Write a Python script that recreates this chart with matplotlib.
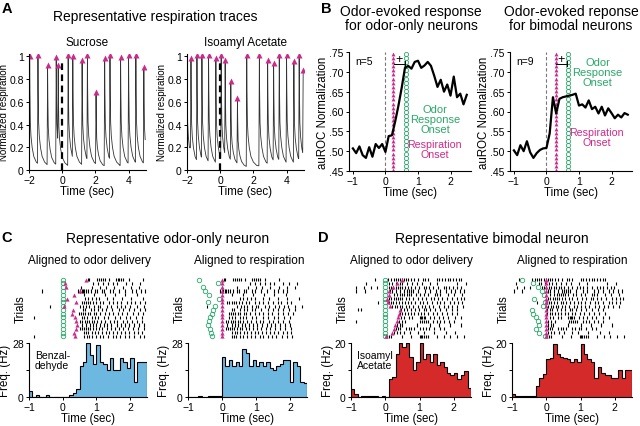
import matplotlib
matplotlib.use('Agg')
import matplotlib.pyplot as plt
import numpy as np

plt.rcParams['font.family'] = ['Liberation Sans', 'DejaVu Sans']
plt.rcParams['axes.linewidth'] = 0.8

MAGENTA = '#cc2a8a'
GREEN = '#2aa86a'
BLUE = '#6cb8e0'
RED = '#d42a2a'

# ---- Panel A: respiration peaks (time in s, normalized height)
sucrose_peak_t = [-1.96, -1.46, -0.88, -0.36, -0.24, 0.36, 0.64, 1.2, 1.52, 2.04,
                  2.56, 2.88, 3.52, 4.0, 4.44, 4.92]
sucrose_peak_h = [0.99, 1.0, 0.91, 0.98, 0.91, 1.0, 0.99, 0.95, 1.0, 0.67,
                  0.97, 1.0, 0.98, 1.0, 1.0, 0.89]
isoamyl_peak_t = [-1.76, -1.4, -1.1, -0.7, -0.26, 0.06, 0.3, 0.64, 1.04, 1.6,
                  2.36, 2.86, 3.22, 3.56, 4.0, 4.44, 4.76, 5.0]
isoamyl_peak_h = [0.97, 1.0, 1.0, 1.0, 0.97, 1.0, 0.95, 0.77, 0.62, 1.0,
                  1.0, 0.95, 0.93, 1.0, 1.0, 0.94, 1.0, 0.86]
# trace level at the left edge (a breath already in progress for isoamyl)
sucrose_start = 0.02
isoamyl_start = 0.98

# ---- Panel B: auROC, -1.0 .. 2.5 s in 0.1 s steps
auroc_t = np.round(np.arange(-1.0, 2.55, 0.1), 2)
auroc_odor_only = [.507, .495, .512, .490, .483, .510, .486, .518, .508, .518,
                   .498, .538, .540, .575, .615, .660, .710, .715, .708, .725,
                   .728, .710, .716, .725, .715, .690, .662, .680, .650, .668,
                   .640, .688, .636, .645, .618, .642]
auroc_bimodal = [.502, .490, .515, .500, .525, .497, .483, .495, .503, .507,
                 .508, .545, .636, .595, .632, .636, .638, .640, .642, .645,
                 .615, .618, .610, .628, .606, .612, .595, .612, .590, .608,
                 .596, .583, .592, .585, .596, .592]
resp_onset_odor_only = 0.24
odor_onset_odor_only = 0.62
resp_onset_bimodal = 0.28
odor_onset_bimodal = 0.67

# ---- Panels C, D: PSTH (bins of 0.1 s from -1.0 to 2.5)
bin_edges = np.round(np.arange(-1.0, 2.55, 0.1), 2)
psth_c_odor = [3, 0, 1, 0, 0, 1, 0, 0, 0, 0,
               0, 0, 1, 2, 4, 16, 18, 28, 22, 17,
               27, 18, 17, 14, 20, 14, 14, 20, 18, 15,
               20, 8, 18, 18, 18]
psth_c_resp = [0, 0, 0, 0.7, 0, 0, 0.7, 0.7, 0.7, 0.7,
               21, 16, 19, 16, 18, 16, 25, 23, 16, 19,
               16, 18, 16, 18, 15, 14, 16, 17, 19, 19,
               8, 18, 16, 8, 7.5]
psth_d_odor = [3, 1, 0, 0.5, 0.5, 0.5, 0.5, 0.5, 0, 0.5,
               0, 6.5, 7.5, 16, 20, 18.5, 20, 15, 10, 13,
               20, 14, 16, 13, 16, 12, 13, 11, 9, 8,
               9, 6.5, 8, 9.5, 3.5]
psth_d_resp = [1, 0.5, 0.5, 0.5, 0.5, 0.5, 0.5, 4, 7, 8.5,
               14, 14.5, 19.5, 16, 15, 14.5, 14, 13, 14, 13,
               19.5, 16, 14, 13, 7, 11, 9, 8, 8, 7,
               7, 10, 7, 10, 10]

# raster data: spike times relative to odor delivery, one list per trial
c_resp_onset = [0.69, 0.08, 0.10, 0.52, 0.33, 0.12, 0.40, 0.05,
                0.30, 0.28, 0.35, 0.40, 0.42, 0.38, 0.32, 0.36]
c_odor_rel_resp = [-0.68, -0.12, -0.55, -0.50, -0.38, -0.09, -0.42, -0.20,
                   -0.26, -0.30, -0.34, -0.38, -0.41, -0.36, -0.33, -0.30]
c_spikes = [
    [0.74, 0.78, 1.02, 1.08, 1.14, 1.2, 1.26, 1.36, 1.58, 1.63, 1.68, 1.74, 1.8, 1.96, 2.37],
    [0.9, 1.06, 1.2, 1.34, 1.48, 1.62, 1.88, 2.06, 2.3],
    [0.55, 0.86, 1.1, 1.28, 1.52, 1.78, 2.02, 2.26],
    [-0.62, 0.46, 0.52, 0.56, 0.6, 0.64, 0.7, 0.76, 0.84, 0.96, 1.02, 1.16, 1.22, 1.4, 1.5,
     1.66, 1.84, 2.06, 2.18, 2.32, 2.44],
    [0.62, 0.94, 1.24, 1.56, 1.86, 2.2],
    [0.66, 0.74, 0.86, 0.98, 1.08, 1.32, 1.5, 1.76, 2.02, 2.38],
    [0.56, 0.62, 0.68, 0.76, 0.82, 0.9, 1.0, 1.12, 1.2, 1.38, 1.48, 1.6, 1.74, 1.9, 2.04,
     2.14, 2.3, 2.44],
    [-0.38, 0.5, 0.6, 0.7, 0.78, 0.94, 1.04, 1.12, 1.3, 1.44, 1.6, 1.72, 1.86, 2.0, 2.2, 2.4],
    [0.6, 0.66, 0.84, 0.94, 1.04, 1.18, 1.28, 1.46, 1.66, 1.8, 1.96, 2.1, 2.28, 2.44],
    [0.48, 0.54, 0.6, 0.66, 0.74, 0.8, 0.92, 1.0, 1.1, 1.24, 1.36, 1.5, 1.64, 1.76, 1.92,
     2.08, 2.22, 2.38],
    [-0.85, 0.56, 0.64, 0.72, 0.88, 0.96, 1.06, 1.22, 1.34, 1.56, 1.7, 1.88, 2.0, 2.16, 2.34],
    [0.52, 0.58, 0.66, 0.72, 0.78, 0.86, 0.94, 1.02, 1.14, 1.26, 1.4, 1.52, 1.62, 1.78, 1.9,
     2.06, 2.2, 2.36],
    [0.58, 0.7, 0.8, 0.9, 1.0, 1.1, 1.22, 1.32, 1.44, 1.6, 1.74, 1.86, 1.98, 2.12, 2.26, 2.42],
    [0.5, 0.56, 0.62, 0.68, 0.74, 0.82, 0.9, 0.98, 1.08, 1.18, 1.3, 1.42, 1.54, 1.66, 1.8,
     1.94, 2.08, 2.24, 2.4],
    [0.62, 0.7, 0.76, 0.86, 0.96, 1.06, 1.16, 1.28, 1.38, 1.5, 1.62, 1.72, 1.84, 1.98, 2.1,
     2.22, 2.36],
    [-0.85, 0.64, 0.72, 0.78, 0.88, 0.98, 1.1, 1.2, 1.34, 1.48, 1.58, 1.7, 1.84, 1.96, 2.12,
     2.28, 2.42],
]

d_resp_onset = [0.5, 0.34, 0.22, 0.10, 0.12, 0.05, 0.08, 0.15,
                0.44, 0.40, 0.36, 0.34, 0.29, 0.26, 0.20, 0.03]
d_odor_rel_resp = [-0.72, -0.38, -0.25, -0.12, -0.08, -0.37, -0.05, -0.10,
                   -0.43, -0.38, -0.30, -0.25, -0.22, -0.30, -0.20, -0.03]
d_spikes = [
    [-0.3, 0.08, 0.16, 0.24, 0.3, 0.36, 0.42, 0.48, 0.54, 0.6, 0.66, 0.74, 0.84, 0.96, 1.1,
     1.16, 1.24, 1.5, 1.58, 1.66, 1.74, 1.82, 1.9, 1.98, 2.06, 2.14, 2.22],
    [-0.55, 0.12, 0.2, 0.3, 0.42, 0.5, 0.62, 0.78, 0.92, 1.06, 1.3, 1.52, 2.1, 2.36],
    [-0.85, -0.62, -0.42, -0.25, 0.1, 0.16, 0.22, 0.3, 0.36, 0.44, 0.5, 0.58, 0.66, 0.74,
     0.86, 0.98, 1.12, 1.2, 1.28, 1.4, 1.54, 1.7, 1.78, 1.86, 1.98, 2.1, 2.2],
    [-0.85, -0.6, 0.14, 0.2, 0.32, 0.44, 0.56, 0.62, 0.68, 0.74, 0.8, 0.96, 1.16, 1.3, 1.48,
     1.6, 1.76, 1.92, 2.04, 2.18, 2.3],
    [0.24, 0.34, 0.44, 0.5, 0.56, 0.62, 0.68, 0.76, 0.9, 1.0, 1.14, 1.26, 1.44, 1.52, 1.6,
     1.84, 2.0, 2.24],
    [0.1, 0.16, 0.24, 0.3, 0.36, 0.42, 0.5, 0.6, 0.7, 0.8, 0.94, 1.08, 1.2, 1.34, 1.42, 1.54,
     1.66, 1.8, 1.96, 2.08, 2.2, 2.3],
    [-0.2, 0.1, 0.16, 0.22, 0.3, 0.4, 0.5, 0.58, 0.66, 0.76, 0.88, 1.0, 1.1, 1.22, 1.36, 1.5,
     1.6, 1.72, 1.9, 2.0, 2.12, 2.24],
    [0.2, 0.28, 0.34, 0.42, 0.5, 0.6, 0.7, 0.82, 0.96, 1.06, 1.16, 1.28, 1.4, 1.56, 1.7, 1.84,
     1.96, 2.1, 2.26],
    [-0.8, -0.72, 0.46, 0.54, 0.62, 0.74, 0.88, 0.98, 1.12, 1.2, 1.3, 1.46, 1.6, 1.78, 1.94, 2.08],
    [0.42, 0.5, 0.58, 0.66, 0.74, 0.84, 0.94, 1.04, 1.14, 1.24, 1.38, 1.5, 1.66, 1.8, 1.94, 2.1],
    [0.46, 0.56, 0.7, 0.78, 1.0, 1.04, 1.08, 1.12, 1.16, 1.3, 1.42, 1.56, 1.68, 1.82, 2.02, 2.2],
    [-0.85, 0.4, 0.48, 0.58, 1.0, 1.06, 1.12, 1.18, 1.24, 1.4, 1.5, 1.6, 1.72, 1.86, 2.0],
    [0.34, 0.42, 0.5, 0.92, 1.3, 1.58, 1.9, 2.2],
    [0.3, 0.36, 0.44, 0.6, 0.68, 0.76, 0.84, 1.0, 1.1, 1.2, 1.28, 1.42, 1.6, 1.7],
    [0.26, 0.34, 0.42, 0.56, 0.72, 0.94, 1.12, 1.42, 1.78, 2.04],
    [0.06, 0.12, 0.18, 0.5, 0.76, 1.0, 1.04, 1.08, 1.12, 1.18, 1.24, 1.5, 1.7, 1.9, 2.1, 2.3],
]

W, H = 640, 427
TITLE = 10
SUB = 8.5
LAB = 8.3
TICK = 7.5
fig = plt.figure(figsize=(6.4, 4.27), dpi=100)


def add_ax(left, top, right, bottom):
    """Axes placed with pixel coordinates of the 640x427 canvas."""
    return fig.add_axes([left / W, 1 - bottom / H, (right - left) / W, (bottom - top) / H])


def ftext(x, y, s, **kw):
    fig.text(x / W, 1 - y / H, s, ha=kw.pop('ha', 'center'), va=kw.pop('va', 'center'), **kw)


def style(ax):
    for s in ['top', 'right']:
        ax.spines[s].set_visible(False)
    ax.tick_params(labelsize=TICK, length=2.5, width=0.7, pad=1.2)


def breath_trace(peak_t, peak_h, start_level, t0, t_end):
    # sharp inhalation then relaxing decay, drawn through each read peak
    decay_dt = [0, 0.015, 0.04, 0.08, 0.15, 0.25, 0.4, 0.6, 1.0]
    decay_f = [1.0, 0.7, 0.42, 0.3, 0.2, 0.12, 0.07, 0.04, 0.03]
    rise = 0.03
    ts, ys = [t0], [start_level]
    carry = start_level > 0.5
    pts = list(zip(peak_t, peak_h))
    first_rise = pts[0][0] - rise
    if carry:
        for dt, f in zip(decay_dt, decay_f):
            if t0 + dt < first_rise:
                ts.append(t0 + dt)
                ys.append(start_level * f)
    ts.append(first_rise)
    ys.append(ys[-1])
    for i, (tp, hp) in enumerate(pts):
        ts.append(tp)
        ys.append(hp)
        nxt = pts[i + 1][0] - rise if i + 1 < len(pts) else t_end
        for dt, f in zip(decay_dt[1:], decay_f[1:]):
            if tp + dt < nxt:
                ts.append(tp + dt)
                ys.append(hp * f)
        ts.append(nxt)
        ys.append(hp * np.interp(nxt - tp, decay_dt, decay_f))
    return ts, ys


# ================= Panel A =================
ftext(7, 9, 'A', fontsize=10.5, fontweight='bold')
ftext(155, 17, 'Representative respiration traces', fontsize=TITLE)
for (left, right, title, pt, ph, st) in [
        (29, 146, 'Sucrose', sucrose_peak_t, sucrose_peak_h, sucrose_start),
        (187, 304, 'Isoamyl Acetate', isoamyl_peak_t, isoamyl_peak_h, isoamyl_start)]:
    ax = add_ax(left, 55, right, 171)
    ts, ys = breath_trace(pt, ph, st, -2.0, 5.0)
    ax.plot(ts, ys, color='#333333', lw=0.6)
    ax.plot(pt, np.array(ph) + 0.015, '^', color=MAGENTA, ms=3.8, mec='none')
    ax.plot([0, 0], [0, 0.97], color='black', lw=1.6, ls=(0, (3, 2)))
    ax.set_xlim(-2.0, 5.05)
    ax.set_ylim(0, 1.02)
    ax.set_xticks([-2, 0, 2, 4])
    ax.set_yticks([0, 0.2, 0.4, 0.6, 0.8, 1])
    ax.set_yticklabels(['0', '0.2', '0.4', '0.6', '0.8', '1'])
    style(ax)
    ax.set_xlabel('Time (sec)', fontsize=LAB, labelpad=0)
    ax.set_ylabel('Normalized respiration', fontsize=7.0, labelpad=0.5)
    ftext((left + right) / 2, 43, title, fontsize=SUB)

# ================= Panel B =================
ftext(326, 9, 'B', fontsize=10.5, fontweight='bold')
b_specs = [
    (349, 471, 'Odor-evoked response\nfor odor-only neurons', 411, auroc_odor_only,
     resp_onset_odor_only, odor_onset_odor_only, 'n=5', (1.52, 0.582), (1.52, 0.505)),
    (510, 632, 'Odor-evoked reponse\nfor bimodal neurons', 571, auroc_bimodal,
     resp_onset_bimodal, odor_onset_bimodal, 'n=9', (1.57, 0.700), (1.55, 0.536)),
]
for (left, right, title, tx, vals, r_on, o_on, ntxt, gpos, mpos) in b_specs:
    ftext(tx, 19, title, fontsize=TITLE, linespacing=1.05)
    ax = add_ax(left, 53, right, 172)
    ax.plot([0, 0], [0.45, 0.75], color='#777777', lw=0.8, ls=(0, (3, 2)))
    col_y = np.arange(0.452, 0.75, 0.0105)
    ax.plot(np.full_like(col_y, r_on), col_y, '^', color=MAGENTA, ms=2.8, mec='none')
    ax.plot(np.full_like(col_y, o_on), col_y, 'o', mfc='none', mec=GREEN, ms=3.0, mew=0.6)
    ax.plot(auroc_t, vals, color='black', lw=1.6)
    yb = 0.721
    ax.plot([r_on + 0.02, o_on - 0.03], [yb, yb], color='black', lw=0.7)
    ax.plot([o_on - 0.03] * 2, [yb - 0.006, yb + 0.006], color='black', lw=0.7)
    ax.text((r_on + o_on) / 2 - 0.02, yb + 0.012, '+', fontsize=9, ha='center', va='center')
    ax.text(-0.92, 0.727, ntxt, fontsize=7.5, ha='left', va='center')
    ax.text(*gpos, 'Odor\nResponse\nOnset', color=GREEN, fontsize=8, ha='center', va='center',
            linespacing=1.0)
    ax.text(*mpos, 'Respiration\nOnset', color=MAGENTA, fontsize=7.7, ha='center', va='center',
            linespacing=1.0)
    ax.set_xlim(-1.12, 2.63)
    ax.set_ylim(0.45, 0.75)
    ax.set_xticks([-1, 0, 1, 2])
    ax.set_yticks([0.45, 0.5, 0.55, 0.6, 0.65, 0.7, 0.75])
    ax.set_yticklabels(['.45', '.50', '.55', '.60', '.65', '.70', '.75'])
    style(ax)
    ax.set_xlabel('Time (sec)', fontsize=LAB, labelpad=0)
    ax.set_ylabel('auROC Normalization', fontsize=LAB, labelpad=0.5)


# ================= Panels C and D =================
def raster(ax, spikes, shift, circles, triangles):
    n = len(spikes)
    for i, tr in enumerate(spikes):
        y = n - i
        s = np.array(tr) - shift[i]
        s = s[(s > -1.0) & (s < 2.5)]
        ax.vlines(s, y - 0.42, y + 0.42, color='black', lw=0.8)
    ys = np.arange(n, 0, -1)
    ax.plot(circles, ys, 'o', mfc='none', mec=GREEN, ms=3.2, mew=0.6)
    ax.plot(triangles, ys, '^', color=MAGENTA, ms=3.0, mec='none')
    ax.set_xlim(-1.0, 2.5)
    ax.set_ylim(0.3, n + 0.7)
    ax.set_xticks([])
    ax.set_yticks([])
    for s in ax.spines.values():
        s.set_visible(False)
    ax.set_ylabel('Trials', fontsize=LAB, labelpad=2)


def psth(ax, vals, color, ymax):
    ax.stairs(vals, bin_edges, fill=True, color=color, lw=0)
    ax.stairs(vals, bin_edges, baseline=0, color='black', lw=0.8)
    ax.set_xlim(-1.0, 2.5)
    ax.set_ylim(0, ymax)
    ax.set_xticks([-1, 0, 1, 2])
    ax.set_yticks([0, ymax / 2, ymax])
    ax.set_yticklabels(['0', '', str(ymax)])
    style(ax)
    ax.set_xlabel('Time (sec)', fontsize=LAB, labelpad=0)
    ax.set_ylabel('Freq. (Hz)', fontsize=LAB, labelpad=0.5)


ftext(7, 238, 'C', fontsize=10.5, fontweight='bold')
ftext(168, 239, 'Representative odor-only neuron', fontsize=TITLE)
ftext(323, 238, 'D', fontsize=10.5, fontweight='bold')
ftext(492, 239, 'Representative bimodal neuron', fontsize=TITLE)

n_c = len(c_spikes)
n_d = len(d_spikes)
zeros_c = np.zeros(n_c)
zeros_d = np.zeros(n_d)
panels = [
    (29, 147, 89, 'Aligned to odor delivery', c_spikes, zeros_c, zeros_c, c_resp_onset,
     psth_c_odor, BLUE, 28, 'Benzal-\ndehyde'),
    (188, 307, 249, 'Aligned to respiration', c_spikes, c_resp_onset, c_odor_rel_resp,
     zeros_c, psth_c_resp, BLUE, 28, None),
    (351, 471, 411, 'Aligned to odor delivery', d_spikes, zeros_d, zeros_d, d_resp_onset,
     psth_d_odor, RED, 20, 'Isoamyl\nAcetate'),
    (512, 632, 572, 'Aligned to respiration', d_spikes, d_resp_onset, d_odor_rel_resp,
     zeros_d, psth_d_resp, RED, 20, None),
]
for (left, right, tx, title, spikes, shift, circ, tri, hist, col, ymax, label) in panels:
    ftext(tx, 261, title, fontsize=SUB)
    axr = add_ax(left, 278, right, 340)
    raster(axr, spikes, shift, circ, tri)
    axh = add_ax(left, 344, right, 398)
    psth(axh, hist, col, ymax)
    if label:
        axh.text(-0.82, ymax * 0.69, label, fontsize=7.5, ha='left', va='center',
                 linespacing=1.0)

fig.savefig('out.png', dpi=100)
